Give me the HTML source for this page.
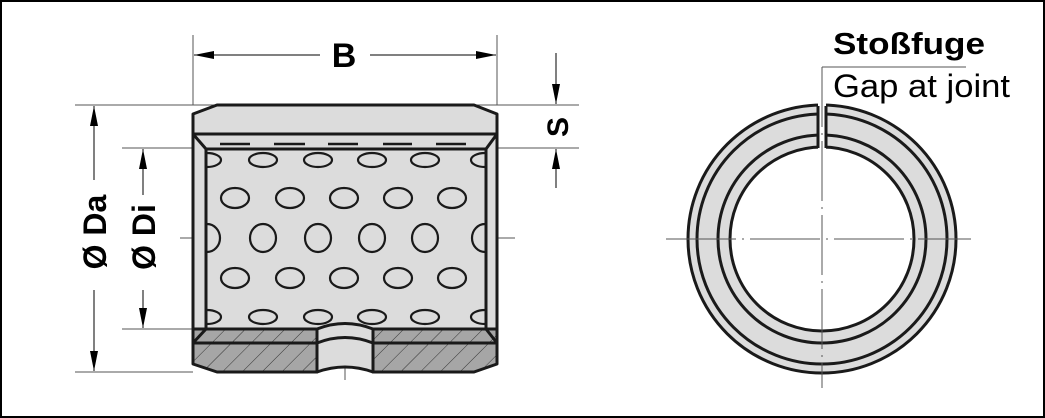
<!DOCTYPE html>
<html><head><meta charset="utf-8"><style>
html,body{margin:0;padding:0;background:#fff}
svg{display:block}
text{font-family:"Liberation Sans",sans-serif}
</style></head><body>
<svg width="1045" height="418" viewBox="0 0 1045 418" xmlns="http://www.w3.org/2000/svg">
<defs>
<marker id="ar" viewBox="0 0 20 8" refX="20" refY="4" markerWidth="20" markerHeight="8" markerUnits="userSpaceOnUse" orient="auto"><path d="M0,0 L20,4 L0,8 Z" fill="#000"/></marker>
<pattern id="hatch" width="14" height="14" patternUnits="userSpaceOnUse" patternTransform="rotate(45)"><rect width="14" height="14" fill="#a6a6a6"/><line x1="0" y1="0" x2="0" y2="14" stroke="#333" stroke-width="1"/></pattern>
</defs>
<rect x="1" y="1" width="1043" height="416" fill="#fff" stroke="#000" stroke-width="2"/>

<g stroke="#555" stroke-width="1" fill="none">
<line x1="193" y1="35" x2="193" y2="105"/>
<line x1="497" y1="35" x2="497" y2="105"/>
<line x1="75" y1="105" x2="579" y2="105"/>
<line x1="497" y1="148" x2="579" y2="148"/>
<line x1="122" y1="148" x2="206" y2="148"/>
<line x1="122" y1="329" x2="206" y2="329"/>
<line x1="75" y1="372" x2="193" y2="372"/>
<line x1="180" y1="238" x2="515" y2="238" stroke-dasharray="30,6,2,6"/>
<line x1="345" y1="315" x2="345" y2="380"/>
</g>
<g stroke="#000" stroke-width="1">
<line x1="320" y1="55" x2="194" y2="55" marker-end="url(#ar)"/>
<line x1="370" y1="55" x2="496" y2="55" marker-end="url(#ar)"/>
<line x1="556" y1="53" x2="556" y2="104" marker-end="url(#ar)"/>
<line x1="556" y1="188" x2="556" y2="149" marker-end="url(#ar)"/>
<line x1="94" y1="180" x2="94" y2="106" marker-end="url(#ar)"/>
<line x1="94" y1="290" x2="94" y2="371" marker-end="url(#ar)"/>
<line x1="143" y1="195" x2="143" y2="149" marker-end="url(#ar)"/>
<line x1="143" y1="290" x2="143" y2="328" marker-end="url(#ar)"/>
</g>
<text x="344" y="67" font-size="34" font-weight="bold" text-anchor="middle">B</text>
<text transform="translate(568,127) rotate(-90)" font-size="30" font-weight="bold" text-anchor="middle">S</text>
<text transform="translate(106,232) rotate(-90)" font-size="32" font-weight="bold" text-anchor="middle">Ø Da</text>
<text transform="translate(155,237) rotate(-90)" font-size="32" font-weight="bold" text-anchor="middle">Ø Di</text>

<g stroke="#1a1a1a" stroke-width="3" stroke-linejoin="round">
<path d="M193,114 L217,105 L474,105 L497,114 L497,134 L193,134 Z" fill="#dcdcdc"/>
<rect x="193" y="134" width="304" height="209" fill="#dcdcdc"/>
<path d="M193,134 L206,149 L206,329 L193,343 M497,134 L486,149 L486,329 L497,343" fill="none"/>
<rect x="206" y="149" width="280" height="180" fill="#dcdcdc"/>
</g>
<g stroke="#1a1a1a" stroke-width="2.2" fill="none">
<ellipse cx="263" cy="160" rx="14" ry="7"/><ellipse cx="318" cy="160" rx="14" ry="7"/><ellipse cx="372" cy="160" rx="14" ry="7"/><ellipse cx="425" cy="160" rx="14" ry="7"/>
<ellipse cx="235" cy="198" rx="14" ry="10"/><ellipse cx="290" cy="198" rx="14" ry="10"/><ellipse cx="344" cy="198" rx="14" ry="10"/><ellipse cx="398" cy="198" rx="14" ry="10"/><ellipse cx="452" cy="198" rx="14" ry="10"/>
<ellipse cx="263" cy="238" rx="13" ry="14"/><ellipse cx="318" cy="238" rx="13" ry="14"/><ellipse cx="372" cy="238" rx="13" ry="14"/><ellipse cx="425" cy="238" rx="13" ry="14"/>
<ellipse cx="235" cy="278" rx="14" ry="10"/><ellipse cx="290" cy="278" rx="14" ry="10"/><ellipse cx="344" cy="278" rx="14" ry="10"/><ellipse cx="398" cy="278" rx="14" ry="10"/><ellipse cx="452" cy="278" rx="14" ry="10"/>
<ellipse cx="263" cy="317" rx="14" ry="7"/><ellipse cx="318" cy="317" rx="14" ry="7"/><ellipse cx="372" cy="317" rx="14" ry="7"/><ellipse cx="425" cy="317" rx="14" ry="7"/>
<path d="M207,153 A14,7 0 0 1 207,167 M207,224 A13,14 0 0 1 207,252 M207,310 A14,7 0 0 1 207,324"/>
<path d="M485,153 A14,7 0 0 0 485,167 M485,224 A13,14 0 0 0 485,252 M485,310 A14,7 0 0 0 485,324"/>
</g>
<g stroke="#1a1a1a" stroke-width="2.5" fill="none">
<path d="M220,144 H250 M274,144 H305 M328,144 H358 M383,144 H412 M436,144 H466"/>
<path d="M220,332 H250 M274,332 H305 M383,332 H412 M436,332 H466"/>
</g>
<g stroke="#1a1a1a" stroke-width="3" stroke-linejoin="round">
<path d="M193,329 L206,329 L317,329 L317,372 L217,372 L193,364 Z" fill="url(#hatch)"/>
<path d="M373,329 L486,329 L497,329 L497,364 L474,372 L373,372 Z" fill="url(#hatch)"/>
<path d="M317,329 Q345,318 373,329 L373,372 Q345,362 317,372 Z" fill="#dcdcdc"/>
<path d="M317,343 Q345,332 373,343" fill="none"/>
<line x1="193" y1="343" x2="317" y2="343"/><line x1="373" y1="343" x2="497" y2="343"/>
<path d="M193,343 L206,329 M497,343 L486,329" fill="none"/>
</g>

<g stroke="#1a1a1a" stroke-width="3">
<circle cx="822" cy="239" r="134" fill="#dcdcdc"/>
<circle cx="822" cy="239" r="125" fill="none"/>
<circle cx="822" cy="239" r="104" fill="none"/>
<circle cx="822" cy="239" r="92" fill="#fff"/>
</g>
<rect x="818" y="100" width="8" height="50" fill="#fff"/>
<g stroke="#1a1a1a" stroke-width="3"><line x1="818" y1="106" x2="818" y2="148"/><line x1="826" y1="106" x2="826" y2="148"/></g>
<g stroke="#555" stroke-width="1" fill="none">
<line x1="822" y1="67" x2="822" y2="388" stroke-dasharray="60,6,2,6"/>
<line x1="822" y1="67" x2="966" y2="67"/>
<line x1="666" y1="239" x2="971" y2="239" stroke-dasharray="70,6,2,6"/>
</g>
<text x="833" y="54" font-size="31" font-weight="bold" textLength="152" lengthAdjust="spacingAndGlyphs">Stoßfuge</text>
<text x="833" y="97" font-size="32" textLength="177" lengthAdjust="spacingAndGlyphs">Gap at joint</text>
</svg>
</body></html>
